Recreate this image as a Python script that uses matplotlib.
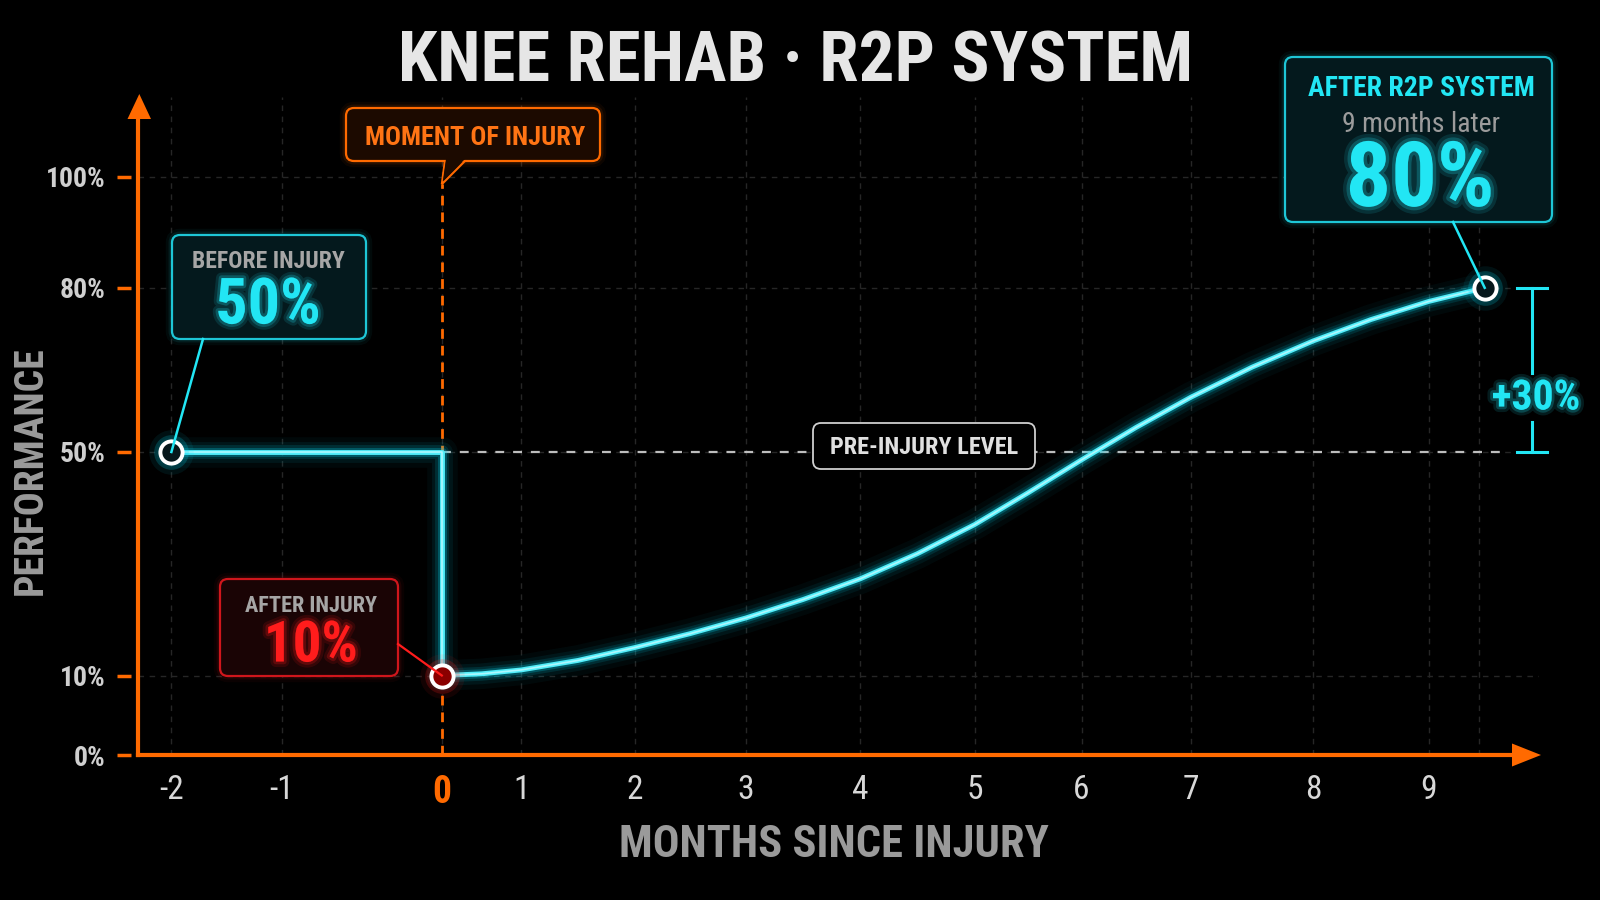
import numpy as np
import matplotlib
matplotlib.use("Agg")
import matplotlib.pyplot as plt
import matplotlib.patheffects as pe
from matplotlib import font_manager
from matplotlib.patches import FancyBboxPatch, Polygon

# values
x_ticks = [-2, -1, 0, 1, 2, 3, 4, 5, 6, 7, 8, 9]
x_tick_labels = ["-2", "-1", "0", "1", "2", "3", "4", "5", "6", "7", "8", "9"]
y_ticks = [0, 10, 50, 80, 100]
y_tick_labels = ["0%", "10%", "50%", "80%", "100%"]

step_months = [-2, 0, 0]
step_perf = [50, 50, 10]

recovery_months = [0, 0.5, 1, 1.5, 2, 2.5, 3, 3.5, 4, 4.5, 5, 5.5, 6, 6.5, 7, 7.5, 8, 8.5, 9, 9.5]
recovery_perf = [10, 10.3, 11.0, 12.7, 15.0, 17.5, 20.3, 23.6, 27.3, 31.8, 37.0, 42.7,
                 48.6, 54.5, 60.0, 65.5, 70.3, 74.2, 77.5, 80]

pre_injury_level = 50
before_point = (-2, 50)
injury_point = (0, 10)
final_point = (9.5, 80)

# colours
BG = "#000000"
ORANGE = "#ff6a00"
CYAN = "#22e6f4"
CYAN_GLOW = "#00d4ee"
RED = "#ff1c1c"
GRAY = "#a6a6a6"
GRID = "#262626"

names = {f.name for f in font_manager.fontManager.ttflist}
FONT = next((n for n in ["Roboto Condensed", "Liberation Sans Narrow", "DejaVu Sans"] if n in names), "DejaVu Sans")
plt.rcParams["font.family"] = [FONT, "DejaVu Sans"]

# the axes in the picture are stretched unevenly, so use a warped scale
XM = [-12, -2, -1, 0, 1, 2, 3, 4, 5, 6, 7, 8, 9, 9.5, 20]
XP = [-928.6, 171.4, 281.6, 441.8, 521.4, 634.7, 745.9, 860.2, 974.5, 1081.6,
      1190.8, 1313.3, 1428.6, 1484.7, 2660.7]
YV = [-100, 0, 10, 50, 80, 100, 300]
YP = [-795, 0, 79.5, 303, 467.2, 578.5, 1690.5]

def fx(v):
    return np.interp(v, XM, XP)

def ix(p):
    return np.interp(p, XP, XM)

def fy(v):
    return np.interp(v, YV, YP)

def iy(p):
    return np.interp(p, YP, YV)

W, H = 1600, 900
fig = plt.figure(figsize=(16, 9), dpi=100, facecolor=BG)
ax = fig.add_axes([137.8 / W, 145 / H, (1539 - 137.8) / W, 658 / H])
ax.set_facecolor(BG)
ax.set_xscale("function", functions=(fx, ix))
ax.set_yscale("function", functions=(fy, iy))
ax.set_xlim(float(ix(137.8)), float(ix(1539)))
ax.set_ylim(0, float(iy(658)))

for s in ax.spines.values():
    s.set_visible(False)
ax.spines["left"].set_position(("outward", 5))

ax.set_xticks(x_ticks)
ax.set_xticklabels(x_tick_labels)
ax.set_yticks(y_ticks)
ax.set_yticklabels(y_tick_labels)
ax.tick_params(axis="x", length=0, pad=14, labelsize=24, labelcolor="#d8d8d8")
ax.tick_params(axis="y", length=10, width=2.5, color=ORANGE, pad=8,
               labelsize=20, labelcolor="#cfcfcf")
for lbl in ax.get_xticklabels():
    if lbl.get_text() == "0":
        lbl.set_color(ORANGE)
        lbl.set_fontsize(27)
        lbl.set_fontweight("bold")
for lbl in ax.get_yticklabels():
    lbl.set_fontweight("bold")

ax.grid(True, color=GRID, lw=1, ls=(0, (4, 4)), zorder=0)
ax.axvline(9.45, color=GRID, lw=1, ls=(0, (4, 4)), zorder=0)

# axis lines
ax.plot([0, 0], [0, 0.985], transform=ax.transAxes, color=ORANGE, lw=3, clip_on=False, zorder=5)
ax.plot([0, 0.985], [0, 0], transform=ax.transAxes, color=ORANGE, lw=3, clip_on=False, zorder=5)

# reference lines
ax.plot([0, 9.66], [pre_injury_level, pre_injury_level], color="#bdbdbd", lw=1.6,
        dashes=(4, 4), zorder=2)
ax.plot([0, 0], [0, 98.6], color=ORANGE, lw=2, dashes=(3.5, 2.5), zorder=2)

# glowing performance line
for xs, ys in [(step_months, step_perf), (recovery_months, recovery_perf)]:
    for lw, a in [(22, 0.04), (15, 0.07), (10, 0.13), (6.5, 0.25)]:
        ax.plot(xs, ys, color=CYAN_GLOW, lw=lw, alpha=a, solid_capstyle="round",
                solid_joinstyle="round", zorder=3)
    ax.plot(xs, ys, color="#52eefa", lw=3.5, solid_capstyle="round", solid_joinstyle="round", zorder=4)
    ax.plot(xs, ys, color="#d4fcff", lw=1.2, alpha=0.7, solid_capstyle="round",
            solid_joinstyle="round", zorder=4)

# point markers
for (mx, my), glow, fill in [(before_point, CYAN_GLOW, "#06171b"),
                             (final_point, CYAN_GLOW, "#06171b"),
                             (injury_point, RED, "#8a0000")]:
    for ms, a in [(32, 0.08), (25, 0.2)]:
        ax.plot(mx, my, "o", ms=ms, color=glow, alpha=a, mew=0, zorder=6)
    ax.plot(mx, my, "o", ms=16, mfc=fill, mec="white", mew=2.8, zorder=7)

# overlay in image pixels for the callouts
ov = fig.add_axes([0, 0, 1, 1], zorder=10)
ov.set_xlim(0, W)
ov.set_ylim(H, 0)
ov.axis("off")
ov.patch.set_alpha(0)


def to_px(x, y):
    X, Y = ax.transData.transform((x, y))
    return X, H - Y


def box(x0, y0, x1, y1, edge, fill, glow=True, lw=1.6):
    if glow:
        for gw, a in [(9, 0.05), (5, 0.1)]:
            ov.add_patch(FancyBboxPatch((x0, y0), x1 - x0, y1 - y0,
                                        boxstyle="round,pad=0,rounding_size=8",
                                        fc="none", ec=edge, lw=gw, alpha=a))
    ov.add_patch(FancyBboxPatch((x0, y0), x1 - x0, y1 - y0,
                                boxstyle="round,pad=0,rounding_size=8",
                                fc=fill, ec=edge, lw=lw))


def glow_fx(color, w=8):
    return [pe.Stroke(linewidth=w, foreground=color, alpha=0.12),
            pe.Stroke(linewidth=w / 2, foreground=color, alpha=0.22),
            pe.Normal()]


# arrow heads
ov.add_patch(Polygon([(139.3, 94), (127.5, 119), (151, 119)], closed=True, fc=ORANGE, ec="none"))
ov.add_patch(Polygon([(1541, 755), (1512, 743.5), (1512, 766.5)], closed=True, fc=ORANGE, ec="none"))

# title and axis titles
ov.text(796, 62, "KNEE REHAB · R2P SYSTEM", ha="center", va="center", fontsize=51,
        fontweight="bold", color="#e6e6e6")
ov.text(31, 471, "PERFORMANCE", ha="center", va="center", rotation=90, fontsize=28.5,
        fontweight="bold", color="#9a9a9a")
ov.text(834, 845, "MONTHS SINCE INJURY", ha="center", va="center", fontsize=32,
        fontweight="bold", color="#9a9a9a")

# moment of injury callout
px0, py0 = to_px(0, 98.6)
ov.add_patch(Polygon([(445, 160), (466, 160), (px0, py0)], closed=True, fc="#1c0a00", ec=ORANGE, lw=1.5))
box(346, 108, 600, 161, ORANGE, "#1c0a00")
ov.add_patch(Polygon([(446, 159), (465, 159), (px0 + 1, py0 - 3)], closed=True, fc="#1c0a00", ec="none"))
ov.text(475, 138, "MOMENT OF INJURY", ha="center", va="center", fontsize=19,
        fontweight="bold", color="#ff7414")

# before injury callout
bx, by = to_px(*before_point)
ov.plot([203, bx], [339, by], color=CYAN, lw=1.8)
box(172, 235, 366, 339, "#1ec6d6", "#04191d")
ov.text(268, 261, "BEFORE INJURY", ha="center", va="center", fontsize=17,
        fontweight="bold", color=GRAY)
ov.text(268, 306, "50%", ha="center", va="center", fontsize=46, fontweight="bold",
        color=CYAN, path_effects=glow_fx(CYAN))

# after injury callout
jx, jy = to_px(*injury_point)
ov.plot([398, jx], [644, jy], color=RED, lw=1.6)
box(220, 579, 398, 676, "#cf161c", "#1a0405")
ov.text(311, 606, "AFTER INJURY", ha="center", va="center", fontsize=16,
        fontweight="bold", color=GRAY)
ov.text(311, 646, "10%", ha="center", va="center", fontsize=41, fontweight="bold",
        color=RED, path_effects=glow_fx(RED))

# after R2P callout
fxp, fyp = to_px(*final_point)
ov.plot([1453, fxp], [222, fyp], color=CYAN, lw=1.8)
box(1285, 57, 1552, 222, "#1ec6d6", "#04191d")
ov.text(1421, 89, "AFTER R2P SYSTEM", ha="center", va="center", fontsize=20,
        fontweight="bold", color=CYAN)
ov.text(1421, 124, "9 months later", ha="center", va="center", fontsize=20, color="#9c9c9c")
ov.text(1420, 181, "80%", ha="center", va="center", fontsize=65, fontweight="bold",
        color=CYAN, path_effects=glow_fx(CYAN, 10))

# pre-injury level label
box(813, 423, 1035, 469, "#cfcfcf", BG, glow=False, lw=1.3)
ov.text(924, 448, "PRE-INJURY LEVEL", ha="center", va="center", fontsize=17.5,
        fontweight="bold", color="#e0e0e0")

# +30% bracket
_, y80 = to_px(final_point[0], final_point[1])
_, y50 = to_px(final_point[0], pre_injury_level)
ov.plot([1532, 1532], [y80, 373], color=CYAN, lw=2.2)
ov.plot([1532, 1532], [422, y50], color=CYAN, lw=2.2)
ov.plot([1517, 1547], [y80, y80], color=CYAN, lw=2.2)
ov.plot([1517, 1547], [y50, y50], color=CYAN, lw=2.2)
ov.text(1536, 398, "+30%", ha="center", va="center", fontsize=30, fontweight="bold",
        color=CYAN, path_effects=glow_fx(CYAN))

fig.savefig("out.png", dpi=100, facecolor=BG)
